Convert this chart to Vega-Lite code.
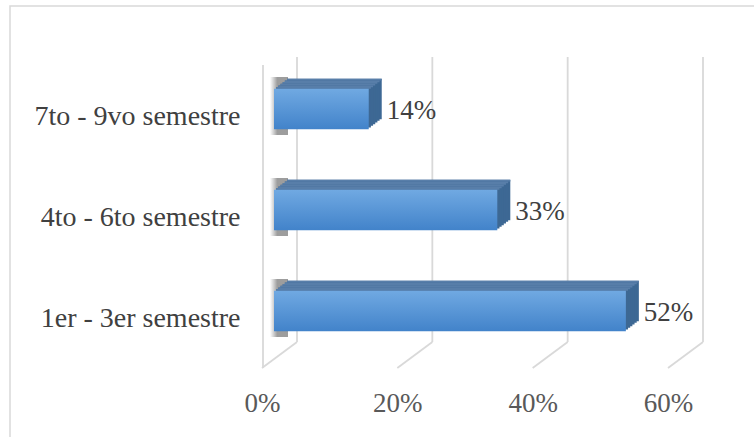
{
  "$schema": "https://vega.github.io/schema/vega-lite/v6.json",
  "width": 760,
  "height": 450,
  "autosize": "none",
  "padding": {"left": 10, "top": 6, "right": 0, "bottom": 0},
  "background": "white",
  "config": {"view": {"stroke": "#d9d9d9", "strokeWidth": 1.5}},
  "data": {"values": [
    {"cat": "7to - 9vo semestre", "v": 0.14},
    {"cat": "4to - 6to semestre", "v": 0.33},
    {"cat": "1er - 3er semestre", "v": 0.52}
  ]},
  "encoding": {
    "y": {"field": "cat", "type": "nominal", "sort": ["7to - 9vo semestre", "4to - 6to semestre", "1er - 3er semestre"],
      "scale": {"range": [52.5, 355.5], "paddingInner": 0.6, "paddingOuter": 0.3},
      "axis": {"orient": "left", "offset": -230, "labelPadding": 0, "ticks": false, "domain": false, "grid": false, "labelFont": "Liberation Serif", "labelFontSize": 28, "labelColor": "#404040", "labelOffset": 8, "title": null, "labelLimit": 0}}
  },
  "layer": [
    {
      "data": {"values": [{"t": 0}, {"t": 0.2}, {"t": 0.4}, {"t": 0.6}]},
      "mark": {"type": "rule", "color": "#d9d9d9", "strokeWidth": 1.8, "xOffset": 23},
      "encoding": {
        "x": {"field": "t", "type": "quantitative", "scale": {"domain": [0, 0.6], "range": [264, 670], "nice": false},
          "axis": {"values": [0, 0.2, 0.4, 0.6], "format": ".0%", "labelFont": "Liberation Serif", "labelFontSize": 27, "labelColor": "#595959", "domain": false, "ticks": false, "tickSize": 0, "grid": false, "labelPadding": 0, "labelBaseline": "middle", "labelOffset": -12, "labelFlush": false, "offset": -53, "title": null}},
        "y": {"value": 51}, "y2": {"value": 336}
      }
    },
    {
      "data": {"values": [{"t": 0}, {"t": 0.2}, {"t": 0.4}, {"t": 0.6}]},
      "mark": {"type": "rule", "color": "#d9d9d9", "strokeWidth": 1.8, "xOffset": 23, "x2Offset": -12},
      "encoding": {
        "x": {"field": "t", "type": "quantitative"},
        "x2": {"field": "t"},
        "y": {"value": 336}, "y2": {"value": 362}
      }
    },
    {
      "data": {"values": [{"t": 0}]},
      "mark": {"type": "rule", "color": "#d9d9d9", "strokeWidth": 1.8, "xOffset": -11},
      "encoding": {
        "x": {"field": "t", "type": "quantitative"},
        "y": {"value": 59}, "y2": {"value": 362}
      }
    },
    {
      "mark": {"type": "bar", "height": 58, "yOffset": -3, "xOffset": -4, "x2Offset": 14,
        "color": {"gradient": "linear", "x1": 0, "y1": 0, "x2": 1, "y2": 0, "stops": [{"offset": 0, "color": "rgba(80,80,80,0)"}, {"offset": 0.4, "color": "rgba(60,60,60,0.5)"}, {"offset": 1, "color": "rgba(60,60,60,0.5)"}]}},
      "encoding": {"x": {"datum": 0, "type": "quantitative"}, "x2": {"datum": 0}}
    },
    {"mark": {"type": "bar", "color": "#3d6894", "xOffset": 13, "x2Offset": 13, "yOffset": -10},
      "encoding": {"x": {"field": "v", "type": "quantitative"}, "x2": {"datum": 0}}},
    {"mark": {"type": "bar", "color": "#3d6894", "xOffset": 10.83, "x2Offset": 10.83, "yOffset": -8.33},
      "encoding": {"x": {"field": "v", "type": "quantitative"}, "x2": {"datum": 0}}},
    {"mark": {"type": "bar", "color": "#3d6894", "xOffset": 8.67, "x2Offset": 8.67, "yOffset": -6.67},
      "encoding": {"x": {"field": "v", "type": "quantitative"}, "x2": {"datum": 0}}},
    {"mark": {"type": "bar", "color": "#3d6894", "xOffset": 6.5, "x2Offset": 6.5, "yOffset": -5},
      "encoding": {"x": {"field": "v", "type": "quantitative"}, "x2": {"datum": 0}}},
    {"mark": {"type": "bar", "color": "#3d6894", "xOffset": 4.33, "x2Offset": 4.33, "yOffset": -3.33},
      "encoding": {"x": {"field": "v", "type": "quantitative"}, "x2": {"datum": 0}}},
    {"mark": {"type": "bar", "color": "#3d6894", "xOffset": 2.17, "x2Offset": 2.17, "yOffset": -1.67},
      "encoding": {"x": {"field": "v", "type": "quantitative"}, "x2": {"datum": 0}}},
    {"mark": {"type": "bar", "color": "#587ea9", "height": 1.8, "xOffset": 13, "x2Offset": 13, "yOffset": -29.37},
      "encoding": {"x": {"field": "v", "type": "quantitative"}, "x2": {"datum": 0}}},
    {"mark": {"type": "bar", "color": "#587ea9", "height": 1.8, "xOffset": 10.83, "x2Offset": 10.83, "yOffset": -27.7},
      "encoding": {"x": {"field": "v", "type": "quantitative"}, "x2": {"datum": 0}}},
    {"mark": {"type": "bar", "color": "#587ea9", "height": 1.8, "xOffset": 8.67, "x2Offset": 8.67, "yOffset": -26.04},
      "encoding": {"x": {"field": "v", "type": "quantitative"}, "x2": {"datum": 0}}},
    {"mark": {"type": "bar", "color": "#587ea9", "height": 1.8, "xOffset": 6.5, "x2Offset": 6.5, "yOffset": -24.37},
      "encoding": {"x": {"field": "v", "type": "quantitative"}, "x2": {"datum": 0}}},
    {"mark": {"type": "bar", "color": "#587ea9", "height": 1.8, "xOffset": 4.33, "x2Offset": 4.33, "yOffset": -22.7},
      "encoding": {"x": {"field": "v", "type": "quantitative"}, "x2": {"datum": 0}}},
    {"mark": {"type": "bar", "color": "#587ea9", "height": 1.8, "xOffset": 2.17, "x2Offset": 2.17, "yOffset": -21.04},
      "encoding": {"x": {"field": "v", "type": "quantitative"}, "x2": {"datum": 0}}},
    {
      "mark": {"type": "bar",
        "color": {"gradient": "linear", "x1": 0, "y1": 0, "x2": 0, "y2": 1, "stops": [{"offset": 0, "color": "#70a9e2"}, {"offset": 1, "color": "#4283ca"}]}},
      "encoding": {
        "x": {"field": "v", "type": "quantitative"},
        "x2": {"datum": 0}
      }
    },
    {
      "mark": {"type": "text", "align": "left", "baseline": "middle", "dx": 18, "dy": 2, "font": "Liberation Serif", "fontSize": 27, "color": "#404040"},
      "encoding": {
        "x": {"field": "v", "type": "quantitative"},
        "text": {"field": "v", "type": "quantitative", "format": ".0%"}
      }
    }
  ]
}
